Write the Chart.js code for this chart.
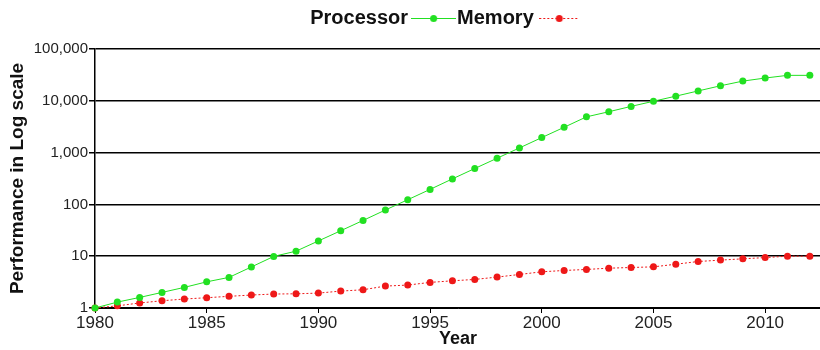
<!DOCTYPE html>
<html>
  <head>
    <title>Processor vs Memory</title>
    <script src="https://cdn.jsdelivr.net/npm/chart.js"></script>
    <style>
      body { margin: 0; background: #fff; overflow: hidden; }
      canvas { display: block; }
    </style>
  </head>
  <body>
    <!-- 5px wider than the window: Chart.js keeps a small right gap we want cropped -->
    <canvas id="perf-chart" width="825" height="350"></canvas>

    <script>
      // Values
      const years = [1980, 1981, 1982, 1983, 1984, 1985, 1986, 1987, 1988, 1989, 1990,
        1991, 1992, 1993, 1994, 1995, 1996, 1997, 1998, 1999, 2000, 2001, 2002, 2003,
        2004, 2005, 2006, 2007, 2008, 2009, 2010, 2011, 2012]
      const processor = [1, 1.3, 1.6, 2.0, 2.5, 3.2, 3.9, 6.2, 9.9, 12.5, 19.7, 31, 49,
        78, 123, 195, 311, 493, 778, 1230, 1950, 3080, 4900, 6150, 7800, 9800, 12300,
        15500, 19500, 24000, 27500, 31000, 31000]
      const memory = [1, 1.1, 1.25, 1.38, 1.49, 1.58, 1.68, 1.78, 1.86, 1.88, 1.94, 2.12,
        2.25, 2.65, 2.77, 3.12, 3.35, 3.56, 3.95, 4.44, 5.0, 5.3, 5.55, 5.87, 6.05, 6.23,
        7.0, 7.9, 8.4, 8.9, 9.4, 10, 10]
      const xTicks = [1980, 1985, 1990, 1995, 2000, 2005, 2010]
      const yTicks = [1, 10, 100, 1000, 10000, 100000]

      const green = '#22e022'
      const red = '#ee1818'

      // legend marker: short line with a dot in the middle
      const marker = (color, dash, w) => {
        const c = document.createElement('canvas')
        c.width = w
        c.height = 10
        const g = c.getContext('2d')
        g.strokeStyle = color
        g.lineWidth = 1
        g.setLineDash(dash)
        g.beginPath()
        g.moveTo(0, 5.5)
        g.lineTo(w, 5.5)
        g.stroke()
        g.fillStyle = color
        g.beginPath()
        g.arc(w / 2, 5.5, 3.5, 0, Math.PI * 2)
        g.fill()
        return c
      }

      // legend sits a bit right of centre in the original
      const legendShift = {
        id: 'legendShift',
        afterLayout(chart) {
          chart.legend.left += 30
          chart.legend.right += 30
        }
      }

      const toPoints = vals => vals.map((v, i) => ({ x: years[i], y: v }))

      new Chart(document.getElementById('perf-chart'), {
        type: 'line',
        data: {
          datasets: [
            {
              label: 'Processor',
              data: toPoints(processor),
              borderColor: green,
              backgroundColor: green,
              borderWidth: 1,
              pointRadius: 3.5,
              pointBorderWidth: 0,
              clip: false
            },
            {
              label: 'Memory',
              data: toPoints(memory),
              borderColor: red,
              backgroundColor: red,
              borderWidth: 1,
              borderDash: [2, 2],
              pointRadius: 3.5,
              pointBorderWidth: 0,
              clip: false
            }
          ]
        },
        plugins: [legendShift],
        options: {
          responsive: false,
          animation: false,
          layout: { padding: 0 },
          scales: {
            x: {
              type: 'linear',
              min: 1980,
              max: 2012.5,
              afterBuildTicks: scale => {
                scale.ticks = xTicks.map(v => ({ value: v }))
              },
              afterFit: scale => { scale.height = 42 },
              grid: {
                drawOnChartArea: false,
                drawTicks: true,
                tickLength: 5,
                color: '#000'
              },
              border: { color: '#000', width: 1 },
              ticks: {
                padding: 0,
                color: '#222',
                font: { family: 'Liberation Sans', size: 17 },
                maxRotation: 0,
                callback: v => String(v)
              },
              title: {
                display: true,
                text: 'Year',
                padding: 0,
                color: '#111',
                font: { family: 'Liberation Sans', size: 18, weight: 'bold' }
              }
            },
            y: {
              type: 'logarithmic',
              min: 1,
              max: 100000,
              afterBuildTicks: scale => {
                scale.ticks = yTicks.map(v => ({ value: v }))
              },
              afterFit: scale => { scale.width = 95 },
              grid: {
                color: '#000',
                lineWidth: 1.5,
                tickLength: 6
              },
              border: { color: '#000', width: 1.5 },
              ticks: {
                padding: 1,
                color: '#222',
                font: { family: 'Liberation Sans', size: 15 },
                callback: v => v.toLocaleString('en-US')
              },
              title: {
                display: true,
                text: 'Performance in Log scale',
                padding: { top: 6, bottom: 0 },
                color: '#111',
                font: { family: 'Liberation Sans', size: 19, weight: 'bold' }
              }
            }
          },
          plugins: {
            tooltip: { enabled: false },
            subtitle: {
              display: true,
              text: '',
              font: { size: 5 },
              padding: { top: 0, bottom: 5 }
            },
            legend: {
              display: true,
              rtl: true,
              reverse: true,
              weight: 3000,
              labels: {
                usePointStyle: true,
                pointStyleWidth: 31,
                padding: 8,
                color: '#111',
                font: { family: 'Liberation Sans', size: 20, weight: 'bold' },
                generateLabels: chart => chart.data.datasets.map((ds, i) => ({
                  text: ds.label,
                  datasetIndex: i,
                  pointStyle: i === 0 ? marker(green, [], 45) : marker(red, [2, 2], 40),
                  fontColor: '#111',
                  lineWidth: 0,
                  hidden: false
                }))
              }
            }
          }
        }
      })
    </script>
  </body>
</html>
